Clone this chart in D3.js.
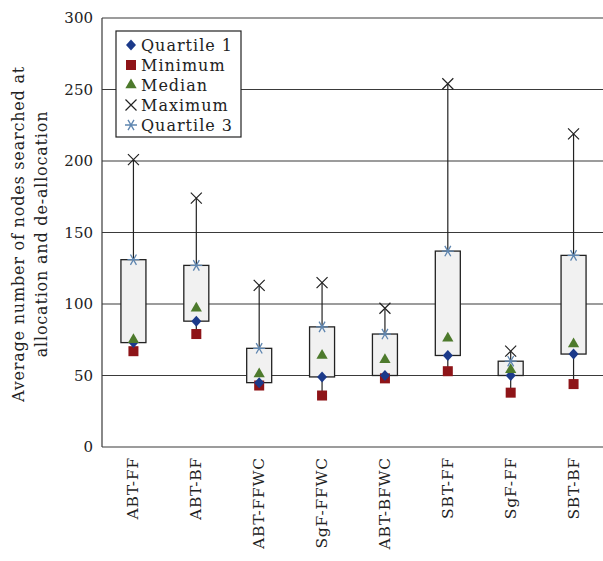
<!DOCTYPE html>
<html>
<head>
<meta charset="utf-8">
<script src="https://cdn.jsdelivr.net/npm/d3@7"></script>
<style>
  body { margin: 0; background: #fff; }
  text { font-family: "DejaVu Serif", serif; fill: #222; }
</style>
</head>
<body>
<svg id="chart" width="603" height="561"></svg>
<script>
// data
let categories = ["ABT-FF", "ABT-BF", "ABT-FFWC", "SgF-FFWC", "ABT-BFWC", "SBT-FF", "SgF-FF", "SBT-BF"];
let minimum   = [67, 79, 43, 36, 48, 53, 38, 44];
let quartile1 = [73, 88, 45, 49, 50, 64, 50, 65];
let median    = [75, 97, 51, 64, 61, 76, 54, 72];
let quartile3 = [131, 127, 69, 84, 79, 137, 60, 134];
let maximum   = [201, 174, 113, 115, 97, 254, 67, 219];
let yTicks = [0, 50, 100, 150, 200, 250, 300];

let svg = d3.select("#chart");
let plotLeft = 102, plotRight = 605, plotTop = 18, plotBottom = 447;

let x = d3.scaleBand().domain(categories).range([plotLeft, plotRight]);
let y = d3.scaleLinear().domain([0, 300]).range([plotBottom, plotTop]);

let rows = categories.map((c, i) => ({
  cat: c, min: minimum[i], q1: quartile1[i], med: median[i], q3: quartile3[i], max: maximum[i]
}));

// grid lines
svg.append("g").selectAll("line")
  .data(yTicks.filter(t => t > 0))
  .join("line")
  .attr("x1", plotLeft).attr("x2", plotRight)
  .attr("y1", d => y(d)).attr("y2", d => y(d))
  .attr("stroke", "#3a3a3a").attr("stroke-width", 1.2);

// axes frame
svg.append("line").attr("x1", plotLeft).attr("x2", plotLeft).attr("y1", plotTop).attr("y2", plotBottom)
  .attr("stroke", "#3a3a3a").attr("stroke-width", 1.2);
svg.append("line").attr("x1", plotLeft).attr("x2", plotRight).attr("y1", plotBottom).attr("y2", plotBottom)
  .attr("stroke", "#3a3a3a").attr("stroke-width", 1.2);

// y tick labels
svg.append("g").selectAll("text")
  .data(yTicks)
  .join("text")
  .attr("x", plotLeft - 9)
  .attr("y", d => y(d))
  .attr("dy", "0.35em")
  .attr("text-anchor", "end")
  .attr("font-size", 15)
  .text(d => d);

// y axis title
let yTitle = svg.append("text")
  .attr("transform", "translate(24,234) rotate(-90)")
  .attr("text-anchor", "middle")
  .attr("font-size", 16)
  .attr("letter-spacing", 0.8);
yTitle.append("tspan").attr("x", 0).attr("dy", 0).text("Average number of nodes searched at");
yTitle.append("tspan").attr("x", 0).attr("dy", 23).text("allocation and de-allocation");

// x labels
svg.append("g").selectAll("text")
  .data(categories)
  .join("text")
  .attr("transform", d => `translate(${x(d) + x.bandwidth() / 2 + 5},${plotBottom + 10}) rotate(-90)`)
  .attr("text-anchor", "end")
  .attr("font-size", 15.5)
  .attr("letter-spacing", 0.8)
  .text(d => d);

let cx = d => x(d.cat) + x.bandwidth() / 2;
let boxW = 25;

// whiskers
svg.append("g").selectAll("line")
  .data(rows)
  .join("line")
  .attr("x1", cx).attr("x2", cx)
  .attr("y1", d => y(d.min)).attr("y2", d => y(d.max))
  .attr("stroke", "#222").attr("stroke-width", 1.2);

// boxes
svg.append("g").selectAll("rect")
  .data(rows)
  .join("rect")
  .attr("x", d => cx(d) - boxW / 2)
  .attr("width", boxW)
  .attr("y", d => y(d.q3))
  .attr("height", d => y(d.q1) - y(d.q3))
  .attr("fill", "#f1f1f1")
  .attr("stroke", "#222").attr("stroke-width", 1.3);

// marker drawing
function drawMark(g, kind, px, py) {
  if (kind == "q1") {
    let w = 5, h = 5.5;
    g.append("path").attr("d", `M${px},${py - h}L${px + w},${py}L${px},${py + h}L${px - w},${py}Z`)
      .attr("fill", "#1c3a8a");
  } else if (kind == "min") {
    g.append("rect").attr("x", px - 5).attr("y", py - 5).attr("width", 10).attr("height", 10)
      .attr("fill", "#8e1418");
  } else if (kind == "med") {
    g.append("path").attr("d", d3.symbol(d3.symbolTriangle, 55)())
      .attr("transform", `translate(${px},${py})`).attr("fill", "#4d7a2c");
  } else if (kind == "max") {
    let s = 5.5;
    g.append("path").attr("d", `M${px - s},${py - s}L${px + s},${py + s}M${px - s},${py + s}L${px + s},${py - s}`)
      .attr("stroke", "#222").attr("stroke-width", 1.2).attr("fill", "none");
  } else if (kind == "q3") {
    let r = 6, p = "";
    for (let a of [0, 60, 120]) {
      let t = a * Math.PI / 180;
      p += `M${px - r * Math.cos(t)},${py - r * Math.sin(t)}L${px + r * Math.cos(t)},${py + r * Math.sin(t)}`;
    }
    g.append("path").attr("d", p).attr("stroke", "#5f86b0").attr("stroke-width", 1.3).attr("fill", "none");
  }
}

let marks = svg.append("g");
rows.forEach(d => {
  drawMark(marks, "min", cx(d), y(d.min));
  drawMark(marks, "q1", cx(d), y(d.q1));
  drawMark(marks, "med", cx(d), y(d.med));
  drawMark(marks, "max", cx(d), y(d.max));
  drawMark(marks, "q3", cx(d), y(d.q3));
});

// legend
let legendItems = [
  { key: "q1", label: "Quartile 1" },
  { key: "min", label: "Minimum" },
  { key: "med", label: "Median" },
  { key: "max", label: "Maximum" },
  { key: "q3", label: "Quartile 3" }
];
let lg = svg.append("g");
lg.append("rect").attr("x", 116).attr("y", 31).attr("width", 125).attr("height", 106)
  .attr("fill", "#fff").attr("stroke", "#222").attr("stroke-width", 1.2);
legendItems.forEach((it, i) => {
  let ly = 45 + i * 20;
  drawMark(lg, it.key, 131, ly);
  lg.append("text").attr("x", 141).attr("y", ly).attr("dy", "0.35em")
    .attr("font-size", 16).attr("letter-spacing", 1).text(it.label);
});
</script>
</body>
</html>
